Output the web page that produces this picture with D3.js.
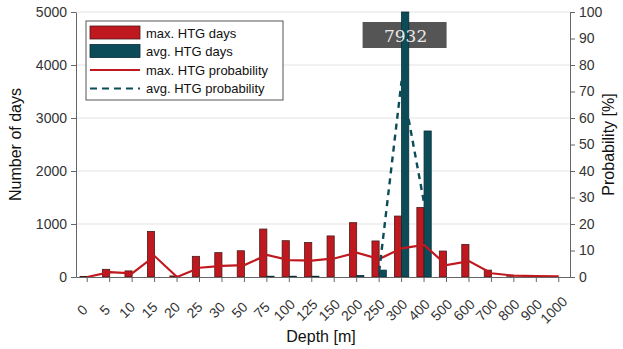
<!DOCTYPE html>
<html>
<head>
<meta charset="utf-8">
<script src="https://cdn.jsdelivr.net/npm/d3@7"></script>
<style>
  body { margin: 0; background: #fff; }
  text { font-family: "Liberation Sans", Arial, sans-serif; }
</style>
</head>
<body>
<svg id="chart" width="623" height="349"></svg>
<script>
// depth categories
var depths = ["0", "5", "10", "15", "20", "25", "30", "50", "75", "100", "125", "150",
              "200", "250", "300", "400", "500", "600", "700", "800", "900", "1000"];
// number of days
var maxDays = [10, 145, 115, 860, 20, 390, 460, 495, 905, 685, 650, 775,
               1025, 680, 1150, 1310, 490, 615, 130, 5, 0, 0];
var avgDays = [0, 0, 0, 0, 0, 0, 0, 0, 15, 15, 15, 0,
               30, 130, 7932, 2755, 0, 0, 0, 0, 0, 0];
// probability [%]
var maxProb = [0, 1.8, 1.4, 7.9, 0, 3.5, 4.2, 4.5, 8.3, 6.4, 6.2, 7.0,
               9.2, 6.8, 10.8, 12.1, 4.5, 6.0, 1.4, 0.5, 0.3, 0.2];
var avgProb = [null, null, null, null, null, null, null, null, null, null, null, null,
               null, 2, 74, 28, null, null, null, null, null, null];
var daysTicks = [0, 1000, 2000, 3000, 4000, 5000];
var probTicks = [0, 10, 20, 30, 40, 50, 60, 70, 80, 90, 100];

var red = "#c0181f", teal = "#0c4c59";
var plotL = 76, plotR = 570, plotT = 12, plotB = 277;

var svg = d3.select("#chart");

var x = d3.scaleBand().domain(depths).range([plotL, plotR]).padding(0);
var yDays = d3.scaleLinear().domain([0, 5000]).range([plotB, plotT]);
var yProb = d3.scaleLinear().domain([0, 100]).range([plotB, plotT]);
var cx = function(d) { return x(d) + x.bandwidth() / 2; };
var bw = x.bandwidth() * 0.32;

// grid lines
svg.append("g").selectAll("line").data(daysTicks.slice(1)).enter().append("line")
    .attr("x1", plotL).attr("x2", plotR)
    .attr("y1", function(d) { return yDays(d); }).attr("y2", function(d) { return yDays(d); })
    .attr("stroke", "#e3e3e3").attr("stroke-width", 1);

// value box for the clipped bar (box behind the bars, text on top)
var peak = depths[avgDays.indexOf(d3.max(avgDays))];
svg.append("rect").attr("x", cx(peak) - 39).attr("y", 22).attr("width", 84).attr("height", 26)
    .attr("fill", "#555");

// bars
svg.append("g").selectAll("rect").data(depths).enter().append("rect")
    .attr("x", function(d) { return cx(d) - bw; })
    .attr("y", function(d, i) { return yDays(maxDays[i]); })
    .attr("width", bw)
    .attr("height", function(d, i) { return plotB - yDays(maxDays[i]); })
    .attr("fill", red).attr("stroke", "#4a1a1a").attr("stroke-width", 0.8);

svg.append("g").selectAll("rect").data(depths).enter().append("rect")
    .attr("x", function(d) { return cx(d); })
    .attr("y", function(d, i) { return yDays(Math.min(avgDays[i], 5000)); })
    .attr("width", bw)
    .attr("height", function(d, i) { return plotB - yDays(Math.min(avgDays[i], 5000)); })
    .attr("fill", teal).attr("stroke", "#082f37").attr("stroke-width", 0.8);

svg.append("text").attr("x", cx(peak) + 4).attr("y", 36).attr("dy", "0.35em")
    .attr("text-anchor", "middle").attr("fill", "#e8e8e8")
    .style("font-family", "'DejaVu Serif', 'Liberation Serif', serif").style("font-size", "17px")
    .text(d3.max(avgDays));

// probability lines
var line = d3.line()
    .defined(function(d) { return d.v !== null; })
    .x(function(d) { return cx(d.k); })
    .y(function(d) { return yProb(d.v); });

svg.append("path")
    .datum(depths.map(function(k, i) { return {k: k, v: maxProb[i]}; }))
    .attr("d", line).attr("fill", "none").attr("stroke", red).attr("stroke-width", 2.2);

svg.append("path")
    .datum(depths.map(function(k, i) { return {k: k, v: avgProb[i]}; }))
    .attr("d", line).attr("fill", "none").attr("stroke", teal).attr("stroke-width", 2.4)
    .attr("stroke-dasharray", "6,5");

// axes
var axisColor = "#666";
function styleAxis(g) {
    g.select(".domain").attr("stroke", axisColor);
    g.selectAll(".tick line").attr("stroke", axisColor);
    g.selectAll(".tick text").attr("fill", "#333").style("font-size", "14px");
}

svg.append("g").attr("transform", "translate(" + plotL + ",0)")
    .call(d3.axisLeft(yDays).tickValues(daysTicks).tickFormat(d3.format("d"))
        .tickSize(5).tickSizeOuter(0).tickPadding(4))
    .call(styleAxis);

svg.append("g").attr("transform", "translate(" + plotR + ",0)")
    .call(d3.axisRight(yProb).tickValues(probTicks).tickFormat(d3.format("d"))
        .tickSize(5).tickSizeOuter(0).tickPadding(4))
    .call(styleAxis);

var xg = svg.append("g").attr("transform", "translate(0," + plotB + ")")
    .call(d3.axisBottom(x).tickSize(5).tickSizeOuter(0))
    .call(styleAxis);
xg.selectAll(".tick text")
    .attr("text-anchor", "middle").attr("dy", "0.35em")
    .attr("y", 0)
    .attr("transform", "translate(-5,33) rotate(-45)");

// axis titles
svg.append("text").attr("transform", "translate(21," + (plotT + plotB) / 2 + ") rotate(-90)")
    .attr("text-anchor", "middle").style("font-size", "16px").attr("fill", "#111")
    .text("Number of days");
svg.append("text").attr("transform", "translate(614," + (plotT + plotB) / 2 + ") rotate(-90)")
    .attr("text-anchor", "middle").style("font-size", "16px").attr("fill", "#111")
    .text("Probability [%]");
svg.append("text").attr("x", (plotL + plotR) / 2 - 2).attr("y", 342)
    .attr("text-anchor", "middle").style("font-size", "16px").attr("fill", "#111")
    .text("Depth [m]");

// legend
var legend = svg.append("g");
legend.append("rect").attr("x", 86).attr("y", 21).attr("width", 197).attr("height", 79)
    .attr("fill", "#fff").attr("stroke", "#555").attr("stroke-width", 1);
var items = [
    {label: "max. HTG days", type: "bar", color: red, stroke: "#4a1a1a"},
    {label: "avg. HTG days", type: "bar", color: teal, stroke: "#082f37"},
    {label: "max. HTG probability", type: "line", color: red},
    {label: "avg. HTG probability", type: "dash", color: teal}
];
items.forEach(function(it, i) {
    var yy = 33 + i * 18.5;
    if (it.type === "bar") {
        legend.append("rect").attr("x", 90).attr("y", yy - 7).attr("width", 50).attr("height", 13)
            .attr("fill", it.color).attr("stroke", it.stroke).attr("stroke-width", 0.8);
    } else {
        legend.append("line").attr("x1", 90).attr("x2", 140).attr("y1", yy).attr("y2", yy)
            .attr("stroke", it.color).attr("stroke-width", 2.2)
            .attr("stroke-dasharray", it.type === "dash" ? "7,5" : null);
    }
    legend.append("text").attr("x", 146).attr("y", yy).attr("dy", "0.35em")
        .style("font-size", "13px").attr("fill", "#111").text(it.label);
});
</script>
</body>
</html>
